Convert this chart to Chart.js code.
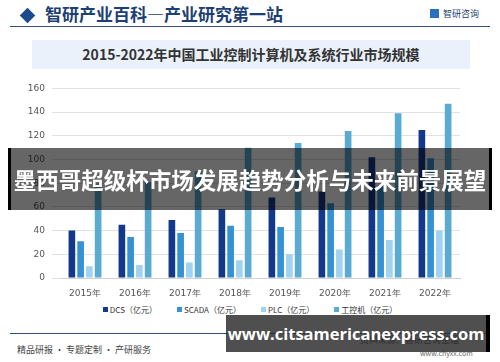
<!DOCTYPE html>
<html lang="zh">
<head>
<meta charset="UTF-8">
<title>工业控制计算机市场规模</title>
<script src="https://cdn.jsdelivr.net/npm/chart.js"></script>
<style>
  body { margin: 0; width: 500px; height: 362px; background: #fff; overflow: hidden;
         font-family: "Noto Sans CJK SC", "Noto Sans", sans-serif; position: relative; }
  .abs { position: absolute; }
  #head { left: 20px; top: 1px; font-size: 17px; color: #1d3f73; font-weight: 700; white-space: nowrap; }
  #head .dia { display: inline-block; width: 11px; height: 11px; background: #1d4a8c; transform: rotate(45deg);
               margin: 0 12px 2px 2px; vertical-align: middle; }
  #logo { left: 430px; top: 7px; font-size: 9px; color: #1d3f73; }
  #logo i { display: inline-block; width: 9px; height: 9px; background: #2a6fc0; margin-right: 4px; vertical-align: -1px; }
  #rule { left: 10px; top: 26px; width: 480px; height: 1px; background: #34507a; }
  #title { left: 32px; top: 40px; width: 438px; height: 29px; background: #eaf1fa; color: #333;
           font-size: 14px; font-weight: 700; text-align: center; line-height: 29px; }
  #wrap { left: 0; top: 76px; width: 500px; height: 224px; }
  #legend { left: 0; top: 304px; width: 500px; text-align: center; font-size: 8px; color: #333; }
  #legend span { margin: 0 10px; }
  #legend b { display: inline-block; width: 5px; height: 5px; margin-right: 2px; vertical-align: 1px; }
  #rule2 { left: 10px; top: 333px; width: 480px; height: 1px; background: #34507a; }
  #foot { left: 17px; top: 343px; font-size: 9px; color: #444; }
  #src { left: 360px; top: 333px; font-size: 9px; color: #444; }
  #site { left: 420px; top: 348px; font-size: 7px; color: #666; }
  #banner { left: 8px; top: 148px; width: 478px; height: 62px; background: rgba(0,0,0,0.6);
            border-left: 3px solid #000; border-right: 3px solid #000; color: #fff; font-weight: 700;
            font-size: 22.5px; line-height: 62px; text-align: center; white-space: nowrap; }
  #mark { left: 226px; top: 315px; width: 260px; height: 37px; background: rgba(40,40,40,0.82);
          border-right: 4px solid #000; color: #fff; font-weight: 700; font-size: 16.5px;
          line-height: 37px; text-align: center; font-family: "Open Sans", sans-serif; white-space: nowrap; }
</style>
</head>
<body>
<div id="head" class="abs"><span class="dia"></span>智研产业百科—产业研究第一站</div>
<div id="logo" class="abs"><i></i>智研咨询</div>
<div id="rule" class="abs"></div>
<div id="title" class="abs">2015-2022年中国工业控制计算机及系统行业市场规模</div>
<div id="wrap" class="abs"><canvas id="chart"></canvas></div>
<div id="legend" class="abs"></div>
<div id="rule2" class="abs"></div>
<div id="foot" class="abs">精品研报 · 专题定制 · 产研服务</div>
<div id="src" class="abs">资料来源：智研咨询整理</div>
<div id="site" class="abs">www.chyxx.com</div>
<div id="banner" class="abs">墨西哥超级杯市场发展趋势分析与未来前景展望</div>
<div id="mark" class="abs">www.citsamericanexpress.com</div>

<script>
const years = ['2015年', '2016年', '2017年', '2018年', '2019年', '2020年', '2021年', '2022年'];
const seriesNames = ['DCS（亿元）', 'SCADA（亿元）', 'PLC（亿元）', '工控机（亿元）'];
const dcs   = [40, 45, 49, 58, 68, 73, 102, 125];
const scada = [31, 34.5, 38, 44, 43, 63, 78, 101];
const plc   = [10, 11, 13, 15, 20, 24, 32, 40];
const ipc   = [79, 81, 90, 110, 114, 124, 139, 147];
const colors = ['#14398a', '#3592d3', '#a0d2f2', '#5aaad2'];

const values = [dcs, scada, plc, ipc];
const datasets = values.map((v, i) => ({
  label: seriesNames[i],
  data: v,
  backgroundColor: colors[i],
  categoryPercentage: 0.7,
  barPercentage: 0.76
}));

document.getElementById('legend').innerHTML = seriesNames
  .map((n, i) => `<span><b style="background:${colors[i]}"></b>${n}</span>`).join('');

new Chart(document.getElementById('chart'), {
  type: 'bar',
  data: { labels: years, datasets },
  options: {
    responsive: true,
    maintainAspectRatio: false,
    animation: false,
    layout: { padding: { top: 3, right: 40, left: 0, bottom: 0 } },
    plugins: { legend: { display: false }, tooltip: { enabled: false } },
    scales: {
      x: {
        grid: { display: false },
        border: { color: '#d0d0d0' },
        ticks: { color: '#555', font: { size: 9, family: 'DejaVu Sans' }, padding: 2 },
        afterFit: s => { s.height = 22; }
      },
      y: {
        min: 0, max: 160,
        ticks: { stepSize: 20, color: '#555', font: { size: 9, family: 'DejaVu Sans' }, padding: 7 },
        grid: { color: '#e2e2e2' },
        border: { display: false },
        afterFit: s => { s.width = 60; }
      }
    }
  }
});
</script>
</body>
</html>
